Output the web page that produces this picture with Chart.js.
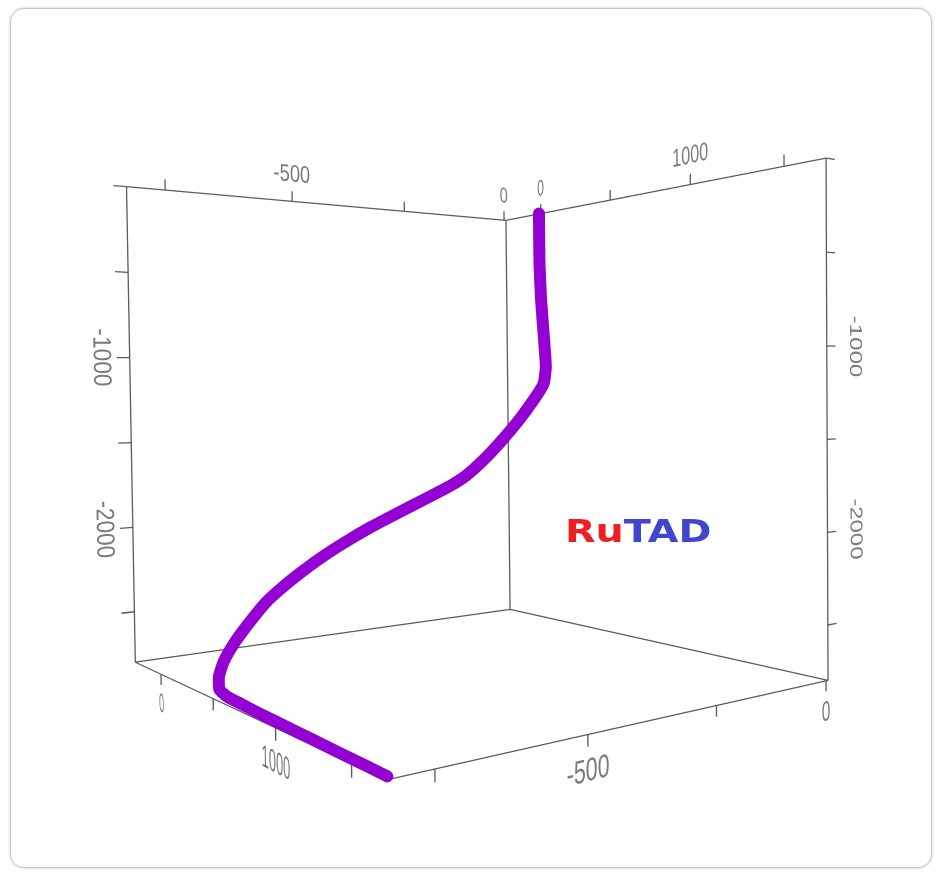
<!DOCTYPE html>
<html lang="en">
<head>
<meta charset="utf-8">
<title>RuTAD well trajectory</title>
<script src="https://cdn.jsdelivr.net/npm/chart.js@4.4.1/dist/chart.umd.min.js"></script>
<style>
  html, body { margin: 0; padding: 0; background: #ffffff; }
  .card {
    position: absolute; left: 10px; top: 8px; width: 922px; height: 860px;
    box-sizing: border-box; border: 1px solid #c9c9c9; border-radius: 14px;
    box-shadow: 0 0 3px rgba(0, 0, 0, 0.22); background: #fff;
  }
  #well { position: absolute; left: 0; top: 0; }
</style>
</head>
<body>
<div class="card"></div>
<canvas id="well" width="937" height="872"></canvas>
<script>
// ============================================================
// DATA - survey stations (m)
// ============================================================
const wellEast  = [0, 0, 0, 0, -2, -11, -38, -78, -124, -173, -217, -257, -317, -381, -450, -510, -563,
                   -609, -650, -686, -722, -754, -780, -793, -800, -805, -806, -808, -809, -810, -811, -812, -813];
const wellNorth = [0, 0, 10, 30, 47, 55, 60, 65, 72, 80, 90, 100, 120, 145, 170, 195, 220,
                   245, 270, 295, 325, 355, 385, 410, 450, 544, 653, 827, 1020, 1205, 1384, 1543, 1677];
const wellDepth = [0, -341, -602, -876, -1060, -1175, -1282, -1418, -1551, -1678, -1770, -1828, -1894, -1961, -2036, -2109, -2180,
                   -2250, -2318, -2386, -2477, -2566, -2655, -2722, -2776, -2786, -2788, -2790, -2792, -2794, -2796, -2797, -2798];

// box extents and axis ticks
const eastRange  = [-820, 5];
const northRange = [-280, 1700];
const depthRange = [-2800, 0];

const eastTicks  = [-750, -500, -250, 0];
const northTicks = [0, 500, 1000, 1500];
const depthTicks = [0, -500, -1000, -1500, -2000, -2500];

const eastLabels  = [-500, 0];
const northLabels = [0, 1000];
const depthLabels = [-1000, -2000];

// ============================================================
// CAMERA - simple perspective view of the unit box
// ============================================================
const view = { azimuth: 35.5, elevation: 1.5, distance: 2.49, focal: 1240, cx: 462.7, cy: 423.3, roll: -0.66 };

const rad = d => d * Math.PI / 180;
const dot = (a, b) => a[0] * b[0] + a[1] * b[1] + a[2] * b[2];
const cross = (a, b) => [a[1] * b[2] - a[2] * b[1], a[2] * b[0] - a[0] * b[2], a[0] * b[1] - a[1] * b[0]];
const norm = a => { const l = Math.hypot(a[0], a[1], a[2]); return [a[0] / l, a[1] / l, a[2] / l]; };
const along = (p, d, k) => [p[0] + d[0] * k, p[1] + d[1] * k, p[2] + d[2] * k];

const az = rad(view.azimuth), el = rad(view.elevation);
const eye = [-view.distance * Math.cos(el) * Math.sin(az),
              view.distance * Math.cos(el) * Math.cos(az),
              view.distance * Math.sin(el)];
const fwd = norm(eye.map(v => -v));
const right = norm([-fwd[1], fwd[0], 0]);
const down = cross(right, fwd);

function toCube(e, n, z) {
    return [
        (e - eastRange[0]) / (eastRange[1] - eastRange[0]) - 0.5,
        (n - northRange[0]) / (northRange[1] - northRange[0]) - 0.5,
        (z - depthRange[0]) / (depthRange[1] - depthRange[0]) - 0.5
    ];
}

function projectCube(c) {
    const d = [c[0] - eye[0], c[1] - eye[1], c[2] - eye[2]];
    const zc = dot(d, fwd);
    const u = view.focal * dot(d, right) / zc;
    const v = view.focal * dot(d, down) / zc;
    const r = rad(view.roll);
    return {
        x: view.cx + u * Math.cos(r) - v * Math.sin(r),
        y: view.cy + u * Math.sin(r) + v * Math.cos(r)
    };
}

const toXY = (e, n, z) => projectCube(toCube(e, n, z));
const GAP = { x: null, y: null };

// ============================================================
// BUILD DATASETS
// ============================================================
const [E0, E1] = eastRange, [N0, N1] = northRange, [Z0, Z1] = depthRange;

const boxPts = [];
function edge(a, b) { boxPts.push(toXY(...a), toXY(...b), GAP); }
edge([E0, N0, Z1], [E1, N0, Z1]);   // top, back-left wall
edge([E1, N0, Z1], [E1, N1, Z1]);   // top, back-right wall
edge([E0, N0, Z1], [E0, N0, Z0]);   // verticals
edge([E1, N0, Z1], [E1, N0, Z0]);
edge([E1, N1, Z1], [E1, N1, Z0]);
edge([E0, N0, Z0], [E1, N0, Z0]);   // floor
edge([E1, N0, Z0], [E1, N1, Z0]);
edge([E0, N0, Z0], [E0, N1, Z0]);
edge([E0, N1, Z0], [E1, N1, Z0]);

const tickPts = [];
function tick(c, dir, len) { tickPts.push(projectCube(c), projectCube(along(c, dir, len)), GAP); }
const UP = [0, 0, 1], DOWN = [0, 0, -1], EAST = [1, 0, 0], WEST = [-1, 0, 0], NORTH = [0, 1, 0];

eastTicks.forEach(v => {
    tick(toCube(v, N0, Z1), UP, 0.023);
    tick(toCube(v, N1, Z0), DOWN, 0.02);
});
northTicks.forEach(v => {
    tick(toCube(E1, v, Z1), UP, 0.023);
    tick(toCube(E0, v, Z0), DOWN, 0.022);
});
depthTicks.forEach(v => {
    tick(toCube(E0, N0, v), WEST, 0.028);
    tick(toCube(E1, N1, v), EAST, 0.026);
});

const pathPts = wellEast.map((e, i) => toXY(e, wellNorth[i], wellDepth[i]));

// ============================================================
// TEXT (axis labels drawn on the box planes, logo)
// ============================================================
const TEXT_UNIT = 0.0027;   // cube units per text pixel
const SQUEEZE = 0.87;

const axisText = {
    id: 'axisText',
    afterDatasetsDraw(chart) {
        const ctx = chart.ctx;
        const xs = chart.scales.x, ys = chart.scales.y;
        const px = p => ({ x: xs.getPixelForValue(p.x), y: ys.getPixelForValue(p.y) });

        function place(text, c, dir, up, shift) {
            const base = along(c, up, shift);
            const step = TEXT_UNIT * 10;
            const o = px(projectCube(base));
            const a = px(projectCube(along(base, dir, step)));
            const u = px(projectCube(along(base, up, step)));
            ctx.save();
            ctx.translate(o.x, o.y);
            ctx.transform((a.x - o.x) / 10 * SQUEEZE, (a.y - o.y) / 10 * SQUEEZE,
                          -(u.x - o.x) / 10, -(u.y - o.y) / 10, 0, 0);
            ctx.fillText(text, 0, 0);
            ctx.restore();
        }

        ctx.save();
        ctx.font = '20px "Liberation Sans", Arial, sans-serif';
        ctx.fillStyle = '#7b7b7b';
        ctx.textAlign = 'center';
        ctx.textBaseline = 'middle';

        eastLabels.forEach(v => {
            place(String(v), toCube(v, N0, Z1), EAST, UP, 0.06);
            place(String(v), toCube(v, N1, Z0), EAST, UP, -0.062);
        });
        northLabels.forEach(v => {
            place(String(v), toCube(E1, v, Z1), NORTH, UP, 0.06);
            place(String(v), toCube(E0, v, Z0), NORTH, UP, -0.062);
        });
        depthLabels.forEach(v => {
            place(String(v), toCube(E0, N0, v), DOWN, EAST, -0.062);
            place(String(v), toCube(E1, N1, v), DOWN, EAST, 0.085);
        });
        ctx.restore();

        // logo
        ctx.save();
        ctx.font = 'bold 32px "DejaVu Sans", Verdana, sans-serif';
        ctx.textBaseline = 'alphabetic';
        ctx.textAlign = 'left';
        ctx.translate(565, 542);
        ctx.scale(1.24, 1);
        ctx.fillStyle = '#ee1f23';
        ctx.fillText('Ru', 0, 0);
        const w = ctx.measureText('Ru').width;
        ctx.fillStyle = '#4046cf';
        ctx.fillText('TAD', w, 0);
        ctx.restore();
    }
};

// ============================================================
// CHART
// ============================================================
new Chart(document.getElementById('well'), {
    type: 'scatter',
    data: {
        datasets: [
            {
                label: 'Well path',
                data: pathPts,
                showLine: true,
                borderColor: '#9400d3',
                borderWidth: 12,
                borderCapStyle: 'round',
                borderJoinStyle: 'round',
                pointRadius: 0,
                tension: 0.15,
                order: 0
            },
            {
                label: 'Box',
                data: boxPts,
                showLine: true,
                borderColor: '#5c5c5c',
                borderWidth: 1.3,
                pointRadius: 0,
                spanGaps: false,
                order: 1
            },
            {
                label: 'Ticks',
                data: tickPts,
                showLine: true,
                borderColor: '#5c5c5c',
                borderWidth: 1.3,
                pointRadius: 0,
                spanGaps: false,
                order: 2
            }
        ]
    },
    options: {
        responsive: false,
        animation: false,
        events: [],
        layout: { padding: 0 },
        plugins: { legend: { display: false }, tooltip: { enabled: false } },
        scales: {
            x: { type: 'linear', min: 0, max: 937, display: false },
            y: { type: 'linear', min: 0, max: 872, reverse: true, display: false }
        }
    },
    plugins: [axisText]
});
</script>
</body>
</html>
